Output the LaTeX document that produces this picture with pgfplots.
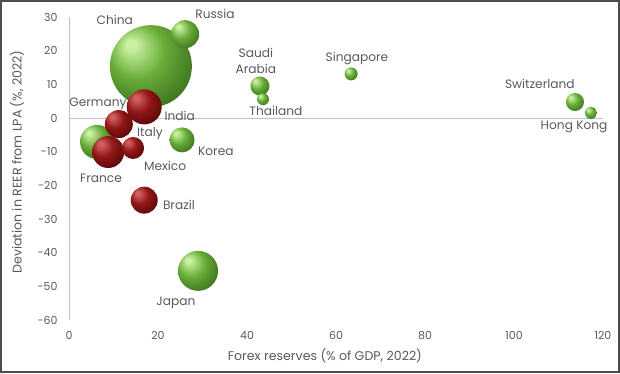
\documentclass[border=0pt]{standalone}
\usepackage{pgfplots}
\pgfplotsset{compat=1.18}
\usepackage{fontspec}
\setmainfont{Poppins}
\definecolor{txt}{HTML}{595959}
\definecolor{axl}{HTML}{BFBFBF}
\definecolor{frm}{HTML}{4D4D4D}
\definecolor{ghl}{HTML}{C8F0A0}
\definecolor{gmid}{HTML}{68AC38}
\definecolor{gdark}{HTML}{2E6016}
\definecolor{rhl}{HTML}{D06060}
\definecolor{rmid}{HTML}{921616}
\definecolor{rdark}{HTML}{450404}
\pgfdeclareradialshading{gball}{\pgfpoint{-13bp}{14bp}}{color(0bp)=(ghl); color(3bp)=(ghl); color(17bp)=(gmid); color(38bp)=(gdark); color(50bp)=(gdark)}
\pgfdeclareradialshading{rball}{\pgfpoint{-13bp}{14bp}}{color(0bp)=(rhl); color(3bp)=(rhl); color(17bp)=(rmid); color(38bp)=(rdark); color(50bp)=(rdark)}
\pgfdeclareplotmark{gball}{\pgfpathcircle{\pgfpointorigin}{\pgfplotmarksize}\pgfshadepath{gball}{0}\pgfusepath{}}
\pgfdeclareplotmark{rball}{\pgfpathcircle{\pgfpointorigin}{\pgfplotmarksize}\pgfshadepath{rball}{0}\pgfusepath{}}

\pgfplotstableread{
x y r
18.4 15.4 41
26.1 24.9 14
6.3 -7.1 17
25.4 -6.5 12.5
29.0 -45.4 20
42.9 9.5 9.5
43.6 5.6 6
63.4 13.1 6.5
113.7 4.75 9
117.3 1.5 6
}\green
\pgfplotstableread{
x y r
16.9 3.3 17.5
11.2 -1.8 14
8.8 -10.1 16
14.4 -8.9 11
16.9 -24.4 13.5
}\red

\begin{document}
\begin{tikzpicture}
\useasboundingbox (-69pt,-53pt) rectangle (551pt,320pt);
\draw[frm, line width=1.6pt, line join=miter] (-68.2pt,-52.2pt) rectangle (550.2pt,319.2pt);
\begin{axis}[
  at={(0,0)}, anchor=south west,
  scale only axis, width=534pt, height=303pt,
  xmin=0, xmax=120, ymin=-60, ymax=30,
  xtick={0,20,...,120}, ytick={-60,-50,...,30},
  axis line style={draw=none},
  major tick length=0pt,
  clip=false,
  /pgf/number format/assume math mode=true,
  tick label style={font=\fontsize{11}{12}\selectfont, text=txt},
  xticklabel style={yshift=-8pt},
  yticklabel style={xshift=-8pt},
  every node/.append style={text=txt},
]
\draw[axl, line width=1pt] (axis cs:0,-60) -- (axis cs:0,30);
\draw[axl, line width=1pt] (axis cs:0,0) -- (axis cs:120,0);
\addplot[scatter, only marks, mark=gball,
  visualization depends on={\thisrow{r} \as \rr},
  scatter/@pre marker code/.append style={/tikz/mark size=\rr pt}]
  table[x=x, y=y] {\green};
\addplot[scatter, only marks, mark=rball,
  visualization depends on={\thisrow{r} \as \rr},
  scatter/@pre marker code/.append style={/tikz/mark size=\rr pt}]
  table[x=x, y=y] {\red};
\begin{scope}[every node/.style={font=\fontsize{12.2}{13}\selectfont, text=txt}]
\node at (axis cs:10.3,29.1) {China};
\node at (axis cs:32.8,30.9) {Russia};
\node[align=center, font=\fontsize{12.2}{16}\selectfont] at (axis cs:42.0,16.9) {Saudi\\Arabia};
\node at (axis cs:46.5,2.1) {Thailand};
\node at (axis cs:6.5,4.2) {Germany};
\node at (axis cs:24.9,0.6) {India};
\node at (axis cs:18.2,-4.5) {Italy};
\node at (axis cs:33.0,-9.8) {Korea};
\node at (axis cs:21.6,-14.3) {Mexico};
\node at (axis cs:7.2,-17.8) {France};
\node at (axis cs:24.7,-25.8) {Brazil};
\node at (axis cs:24.0,-54.9) {Japan};
\node at (axis cs:64.7,17.8) {Singapore};
\node at (axis cs:105.8,10.1) {Switzerland};
\node at (axis cs:113.5,-2.7) {Hong Kong};
\node[font=\fontsize{12.6}{13}\selectfont] at (axis cs:57.5,-70.7) {Forex reserves (\% of GDP, 2022)};
\node[rotate=90, font=\fontsize{12.6}{13}\selectfont] at (axis cs:-11.7,-13.1) {Deviation in REER from LPA (\%, 2022)};
\end{scope}
\end{axis}
\end{tikzpicture}
\end{document}
